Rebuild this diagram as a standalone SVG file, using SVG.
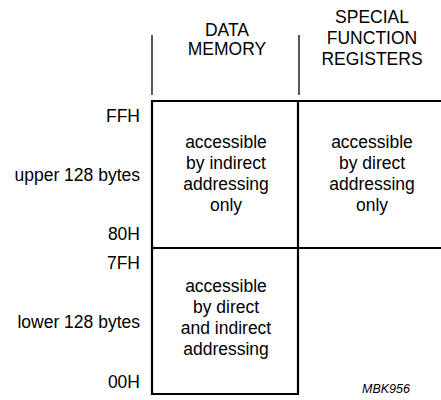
<svg xmlns="http://www.w3.org/2000/svg" width="441" height="400" viewBox="0 0 441 400">
<style>
text{font-family:"Liberation Sans",Arial,sans-serif;font-size:17.5px;fill:#000}
.c{text-anchor:middle}
.r{text-anchor:end}
.m{font-size:12.5px;font-style:italic}
.thin{stroke:#000;stroke-width:1.3;fill:none}
.thick{stroke:#000;stroke-width:2.2;fill:none}
</style>
<rect width="441" height="400" fill="#fff"/>
<g id="header-data">
<line class="thin" x1="152" y1="35" x2="152" y2="95"/>
<text class="c" x="227" y="36">DATA</text>
<text class="c" x="227" y="55">MEMORY</text>
</g>
<g id="header-sfr">
<line class="thin" x1="299" y1="35" x2="299" y2="95"/>
<text class="c" x="372" y="23">SPECIAL</text>
<text class="c" x="372" y="44">FUNCTION</text>
<text class="c" x="372" y="65">REGISTERS</text>
</g>
<g id="grid">
<path class="thick" d="M152,101 H441 M152,248 H441 M152,394 H298 M152,100 V395 M298,100 V395"/>
</g>
<g id="labels">
<text class="r" x="140" y="122">FFH</text>
<text class="r" x="140" y="181">upper 128 bytes</text>
<text class="r" x="140" y="240">80H</text>
<text class="r" x="140" y="269">7FH</text>
<text class="r" x="140" y="328">lower 128 bytes</text>
<text class="r" x="140" y="388">00H</text>
</g>
<g id="upper-data">
<text class="c" x="226" y="148">accessible</text>
<text class="c" x="226" y="169">by indirect</text>
<text class="c" x="226" y="190">addressing</text>
<text class="c" x="226" y="211">only</text>
</g>
<g id="upper-sfr">
<text class="c" x="372" y="148">accessible</text>
<text class="c" x="372" y="169">by direct</text>
<text class="c" x="372" y="190">addressing</text>
<text class="c" x="372" y="211">only</text>
</g>
<g id="lower-data">
<text class="c" x="226" y="292">accessible</text>
<text class="c" x="226" y="313">by direct</text>
<text class="c" x="226" y="334">and indirect</text>
<text class="c" x="226" y="355">addressing</text>
</g>
<text class="m" x="386" y="393" text-anchor="middle">MBK956</text>
</svg>
